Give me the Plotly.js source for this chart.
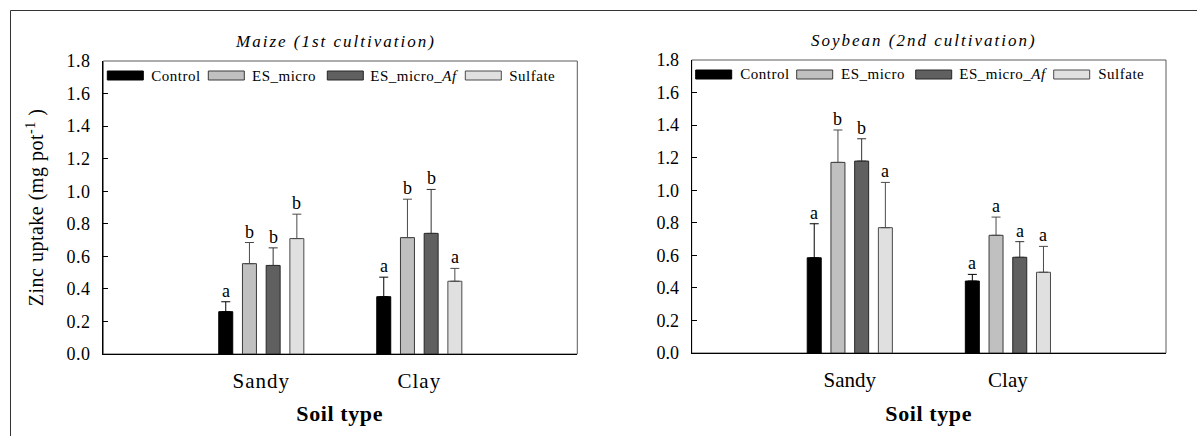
<!DOCTYPE html>
<html>
<head>
<meta charset="utf-8">
<script src="https://cdn.plot.ly/plotly-3.0.1.min.js"></script>
<style>
  html, body { margin: 0; padding: 0; background: #fff; }
  #chart { width: 1197px; height: 436px; }
  .xtick text { letter-spacing: 1px; }
  .ytick text { letter-spacing: 0.6px; }
</style>
</head>
<body>
<div id="chart"></div>
<script>
// ---------------- DATA ----------------
const categories = ['Sandy', 'Clay'];
const seriesNames = ['Control', 'ES_micro', 'ES_micro_<i>Af</i>', 'Sulfate'];

// Maize (1st cultivation)
const maizeControl   = [0.26, 0.352];
const maizeESmicro   = [0.555, 0.715];
const maizeESmicroAf = [0.544, 0.741];
const maizeSulfate   = [0.709, 0.447];
const maizeControlErr   = [0.061, 0.12];
const maizeESmicroErr   = [0.13, 0.236];
const maizeESmicroAfErr = [0.108, 0.27];
const maizeSulfateErr   = [0.15, 0.079];
const maizeControlLet   = ['a', 'a'];
const maizeESmicroLet   = ['b', 'b'];
const maizeESmicroAfLet = ['b', 'b'];
const maizeSulfateLet   = ['b', 'a'];

// Soybean (2nd cultivation)
const soyControl   = [0.585, 0.442];
const soyESmicro   = [1.171, 0.723];
const soyESmicroAf = [1.179, 0.588];
const soySulfate   = [0.77, 0.496];
const soyControlErr   = [0.209, 0.041];
const soyESmicroErr   = [0.199, 0.112];
const soyESmicroAfErr = [0.137, 0.096];
const soySulfateErr   = [0.278, 0.159];
const soyControlLet   = ['a', 'a'];
const soyESmicroLet   = ['b', 'a'];
const soyESmicroAfLet = ['b', 'a'];
const soySulfateLet   = ['a', 'a'];

const panelTitles = ['Maize (1st cultivation)', 'Soybean (2nd cultivation)'];
const xTitle = 'Soil type';
const yTitle = 'Zinc uptake (mg pot<sup>-1</sup> )';
const yTickVals = [0, 0.2, 0.4, 0.6, 0.8, 1.0, 1.2, 1.4, 1.6, 1.8];

// ---------------- STYLE ----------------
const W = 1197, H = 436;
const FONT = '"Liberation Serif", "Times New Roman", Times, serif';
const fills   = ['#000000', '#c0c0c0', '#606060', '#e0e0e0'];
const borders = ['#000000', '#3a3a3a', '#262626', '#4a4a4a'];
const errCols = ['#000000', '#4a4a4a', '#333333', '#4a4a4a'];
const BARGAP = 0.4, BARGROUPGAP = 0.41;

const panels = [
  { xd: [103.3, 577.3], yd: [61, 354], xa: 'x',  ya: 'y',
    vals: [maizeControl, maizeESmicro, maizeESmicroAf, maizeSulfate],
    errs: [maizeControlErr, maizeESmicroErr, maizeESmicroAfErr, maizeSulfateErr],
    lets: [maizeControlLet, maizeESmicroLet, maizeESmicroAfLet, maizeSulfateLet],
    titleX: 335, titleY: 42 },
  { xd: [691.7, 1166], yd: [60, 353], xa: 'x2', ya: 'y2',
    vals: [soyControl, soyESmicro, soyESmicroAf, soySulfate],
    errs: [soyControlErr, soyESmicroErr, soyESmicroAfErr, soySulfateErr],
    lets: [soyControlLet, soyESmicroLet, soyESmicroAfLet, soySulfateLet],
    titleX: 924, titleY: 40 }
];

const px = v => v / W;
const py = v => 1 - v / H;

const traces = [];
const shapes = [];
const annotations = [];
const annSpacing = [];

const nS = seriesNames.length;
const slot = (1 - BARGAP) / nS;

// legend geometry relative to plot left/top (px)
const legSwatchX = [4, 105, 224, 362];
const legSwatchW = 36, legSwatchTop = 10, legSwatchH = 9, legTextGap = 45;

panels.forEach((p, pi) => {
  for (let s = 0; s < nS; s++) {
    traces.push({
      type: 'bar',
      name: seriesNames[s],
      x: categories,
      y: p.vals[s],
      xaxis: p.xa, yaxis: p.ya,
      showlegend: false,
      marker: { color: fills[s], line: { color: borders[s], width: 1 } },
      error_y: {
        type: 'data', symmetric: false,
        array: p.errs[s], arrayminus: p.errs[s].map(() => 0),
        color: errCols[s], thickness: 1, width: 4.5
      },
      hoverinfo: 'skip'
    });
    // significance letters
    const off = (s - (nS - 1) / 2) * slot;
    categories.forEach((c, ci) => {
      annotations.push({
        xref: p.xa, yref: p.ya,
        x: ci + off, y: p.vals[s][ci] + p.errs[s][ci],
        text: p.lets[s][ci], showarrow: false,
        xanchor: 'center', yanchor: 'bottom', yshift: -1,
        font: { family: FONT, size: 18, color: '#000' }
      });
      annSpacing.push(0);
    });
  }

  // frame (top/right grey)
  shapes.push({
    type: 'rect', xref: p.xa + ' domain', yref: p.ya + ' domain',
    x0: 0, x1: 1, y0: 0, y1: 1, layer: 'below',
    line: { color: '#5a5a5a', width: 1 }, fillcolor: 'rgba(0,0,0,0)'
  });

  // legend (drawn manually to mimic long swatches)
  for (let s = 0; s < nS; s++) {
    const x0 = p.xd[0] + legSwatchX[s];
    const y0 = p.yd[0] + legSwatchTop;
    shapes.push({
      type: 'rect', xref: 'paper', yref: 'paper',
      x0: px(x0), x1: px(x0 + legSwatchW), y0: py(y0), y1: py(y0 + legSwatchH),
      fillcolor: fills[s], line: { color: borders[s], width: 1 }
    });
    annotations.push({
      xref: 'paper', yref: 'paper',
      x: px(x0 + legTextGap - 1), y: py(y0 + legSwatchH / 2),
      xanchor: 'left', yanchor: 'middle', showarrow: false,
      text: seriesNames[s],
      font: { family: FONT, size: 15, color: '#000' }
    });
    annSpacing.push(0.5);
  }

  // panel title
  annotations.push({
    xref: 'paper', yref: 'paper', x: px(p.titleX), y: py(p.titleY),
    xanchor: 'center', yanchor: 'middle', showarrow: false,
    text: '<i>' + panelTitles[pi] + '</i>',
    font: { family: FONT, size: 17, color: '#000' }
  });
  annSpacing.push(2);

  // x title
  annotations.push({
    xref: 'paper', yref: 'paper', x: px((p.xd[0] + p.xd[1]) / 2), y: py(413),
    xanchor: 'center', yanchor: 'middle', showarrow: false,
    text: '<b>' + xTitle + '</b>',
    font: { family: FONT, size: 22, color: '#000' }
  });
  annSpacing.push(0.6);
});

// y title (left panel only)
annotations.push({
  xref: 'paper', yref: 'paper', x: px(35), y: py(207.5),
  xanchor: 'center', yanchor: 'middle', showarrow: false, textangle: -90,
  text: yTitle,
  font: { family: FONT, size: 20, color: '#000' }
});
annSpacing.push(0.5);

// outer figure border (top and left)
shapes.push({ type: 'line', xref: 'paper', yref: 'paper',
  x0: px(10.5), x1: 1, y0: py(10.5), y1: py(10.5), line: { color: '#333', width: 1 } });
shapes.push({ type: 'line', xref: 'paper', yref: 'paper',
  x0: px(10.5), x1: px(10.5), y0: py(10.5), y1: 0, line: { color: '#333', width: 1 } });

function xAxis(p) {
  return {
    domain: [px(p.xd[0]), px(p.xd[1])], anchor: p.ya,
    type: 'category', range: [-1, 2], fixedrange: true,
    showline: true, linecolor: '#000', linewidth: 1,
    ticks: '', showgrid: false, zeroline: false,
    tickfont: { family: FONT, size: 21, color: '#000' },
    ticklabelstandoff: 8
  };
}
function yAxis(p) {
  return {
    domain: [py(p.yd[1]), py(p.yd[0])], anchor: p.xa,
    range: [0, 1.8], fixedrange: true,
    tickvals: yTickVals, tickformat: '.1f',
    ticks: 'inside', ticklen: 5, tickcolor: '#000', tickwidth: 1,
    showline: true, linecolor: '#000', linewidth: 1,
    showgrid: false, zeroline: false,
    tickfont: { family: FONT, size: 18, color: '#000' },
    ticklabelstandoff: 8
  };
}

const layout = {
  width: W, height: H,
  margin: { l: 0, r: 0, t: 0, b: 0, pad: 0 },
  paper_bgcolor: '#fff', plot_bgcolor: '#fff',
  font: { family: FONT, color: '#000' },
  barmode: 'group', bargap: BARGAP, bargroupgap: BARGROUPGAP,
  showlegend: false,
  xaxis: xAxis(panels[0]), yaxis: yAxis(panels[0]),
  xaxis2: xAxis(panels[1]), yaxis2: yAxis(panels[1]),
  shapes: shapes,
  annotations: annotations
};

Plotly.newPlot('chart', traces, layout, { displayModeBar: false, staticPlot: true }).then(gd => {
  gd.querySelectorAll('g.annotation').forEach(g => {
    const i = +g.getAttribute('data-index');
    const t = g.querySelector('text');
    if (t && annSpacing[i]) t.style.letterSpacing = annSpacing[i] + 'px';
  });
});
</script>
</body>
</html>
